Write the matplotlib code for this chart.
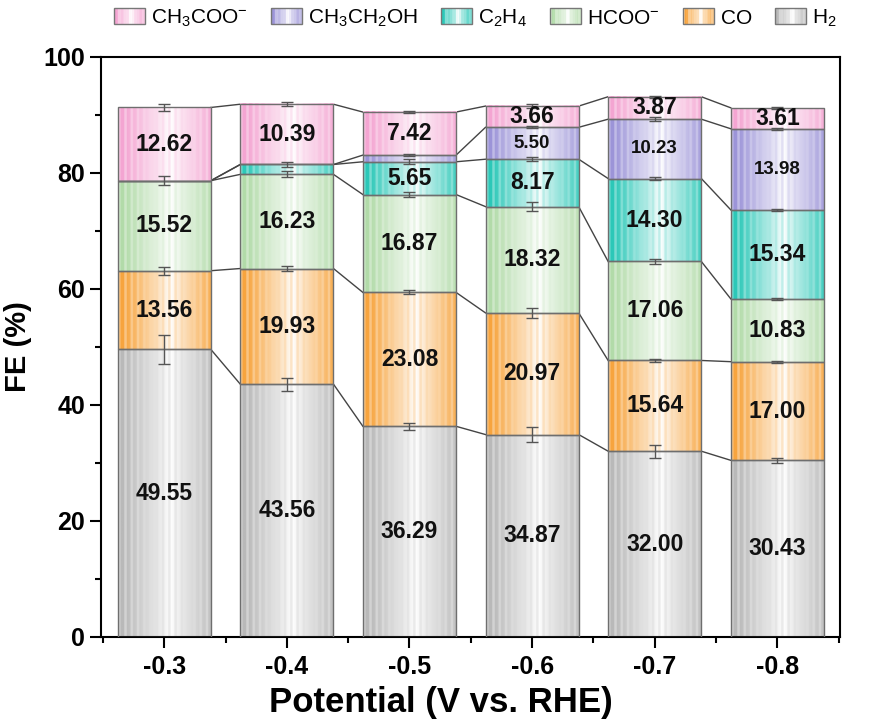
import numpy as np
import matplotlib.pyplot as plt
from matplotlib.patches import Rectangle, Patch
from matplotlib.legend_handler import HandlerBase
from matplotlib.colors import to_rgb

plt.rcParams['font.family'] = ['Liberation Sans', 'DejaVu Sans']
plt.rcParams['mathtext.fontset'] = 'custom'
plt.rcParams['mathtext.rm'] = 'Liberation Sans'
plt.rcParams['mathtext.it'] = 'Liberation Sans:italic'
plt.rcParams['mathtext.bf'] = 'Liberation Sans:bold'

potentials = ['-0.3', '-0.4', '-0.5', '-0.6', '-0.7', '-0.8']

# FE values (%), stacked bottom -> top
h2 = [49.55, 43.56, 36.29, 34.87, 32.00, 30.43]
co = [13.56, 19.93, 23.08, 20.97, 15.64, 17.00]
hcoo = [15.52, 16.23, 16.87, 18.32, 17.06, 10.83]
c2h4 = [0.0, 1.70, 5.65, 8.17, 14.30, 15.34]
etoh = [0.0, 0.0, 1.15, 5.50, 10.23, 13.98]
ch3coo = [12.62, 10.39, 7.42, 3.66, 3.87, 3.61]

# error bars
h2_err = [2.5, 1.1, 0.55, 1.3, 1.1, 0.4]
co_err = [0.7, 0.5, 0.35, 0.8, 0.3, 0.2]
hcoo_err = [0.8, 0.5, 0.4, 0.8, 0.4, 0.2]
c2h4_err = [0.0, 0.4, 0.4, 0.3, 0.3, 0.15]
etoh_err = [0.0, 0.0, 0.2, 0.2, 0.3, 0.2]
ch3coo_err = [0.6, 0.3, 0.2, 0.35, 0.2, 0.2]

series = [h2, co, hcoo, c2h4, etoh, ch3coo]
errors = [h2_err, co_err, hcoo_err, c2h4_err, etoh_err, ch3coo_err]
names = ['H$_2$', 'CO', 'HCOO$^{-}$', 'C$_2$H$_4$', 'CH$_3$CH$_2$OH', 'CH$_3$COO$^{-}$']
colors = ['#b9b9b9', '#f7a43e', '#b2dba9', '#2cc8b8', '#9c94d8', '#f4a5d2']


def shade(color, n=150):
    x = np.linspace(0, 1, n)
    a = np.clip(np.abs(x - 0.56) / 0.5, 0, 1) ** 0.85
    stripe = ((x * 15) % 1) < 0.4
    a = np.where(stripe, a * 0.65 + 0.28 * (1 - a), a)
    c = np.array(to_rgb(color))
    return 1 - a[:, None] * (1 - c[None, :])


class GradHandler(HandlerBase):
    def create_artists(self, legend, orig_handle, xdescent, ydescent,
                       width, height, fontsize, trans):
        prof = shade(orig_handle.get_facecolor(), 20)
        n = len(prof)
        arts = []
        for k in range(n):
            arts.append(Rectangle((-xdescent + k * width / n, -ydescent), width / n, height,
                                  facecolor=prof[k], edgecolor='none', transform=trans))
        arts.append(Rectangle((-xdescent, -ydescent), width, height, facecolor='none',
                              edgecolor='#777777', lw=1, transform=trans))
        return arts


fig = plt.figure(figsize=(8.8, 7.27), dpi=100)
ax = fig.add_axes([0.115, 0.124, 0.84, 0.798])

x = np.arange(len(potentials))
w = 0.76
bottom = np.zeros(len(x))
for vals, errs, col, name in zip(series, errors, colors, names):
    vals = np.array(vals)
    bars = ax.bar(x, vals, w, bottom=bottom, facecolor='none', edgecolor='#6e6e6e',
                  linewidth=1, zorder=3)
    img = shade(col)[None, :, :]
    for b, v in zip(bars, vals):
        if v <= 0:
            continue
        x0, y0 = b.get_x(), b.get_y()
        ax.imshow(img, extent=(x0, x0 + b.get_width(), y0, y0 + b.get_height()),
                  aspect='auto', interpolation='bilinear', zorder=2)
    top = bottom + vals
    m = vals > 0
    ax.errorbar(x[m], top[m], yerr=np.array(errs)[m], fmt='none', ecolor='#555555',
                elinewidth=1, capsize=4, capthick=1, zorder=4)
    for xi, v, bt in zip(x, vals, bottom):
        if v >= 3:
            fs = 13.5 if name == 'CH$_3$CH$_2$OH' else 16.5
            ax.text(xi, bt + v / 2, '%.2f' % v, ha='center', va='center', fontsize=fs,
                    fontweight='bold', color='#111111', zorder=5)
    # connecting lines
    for i in range(len(x) - 1):
        ax.plot([x[i] + w / 2, x[i + 1] - w / 2], [top[i], top[i + 1]], color='#444444',
                lw=1, zorder=1)
    bottom = top

ax.set_xlim(-0.514, 5.514)
ax.set_ylim(0, 100)
ax.set_xticks(x)
ax.set_xticklabels(potentials)
ax.set_xticks(np.arange(-0.5, 6, 1), minor=True)
ax.set_yticks(np.arange(0, 101, 20))
ax.set_yticks(np.arange(10, 100, 20), minor=True)
ax.tick_params(which='major', direction='out', length=8, width=1.5, labelsize=18)
ax.tick_params(which='minor', direction='out', length=4, width=1.5)
ax.tick_params(axis='x', which='major', pad=5)
for lab in ax.get_xticklabels() + ax.get_yticklabels():
    lab.set_fontweight('bold')
for s in ax.spines.values():
    s.set_linewidth(1.5)
ax.set_xlabel('Potential (V vs. RHE)', fontsize=25, fontweight='bold')
ax.xaxis.set_label_coords(0.459, -0.085)
ax.set_ylabel('FE (%)', fontsize=21, fontweight='bold', labelpad=8)

handles = [Patch(facecolor=c, label=n) for c, n in zip(colors[::-1], names[::-1])]
fig.legend(handles=handles, handler_map={Patch: GradHandler()}, loc='center',
           bbox_to_anchor=(0.54, 0.975), ncol=6, frameon=False, fontsize=15,
           handlelength=1.5, handleheight=0.8, handletextpad=0.3, columnspacing=1.1)

fig.savefig('out.png', dpi=100)
